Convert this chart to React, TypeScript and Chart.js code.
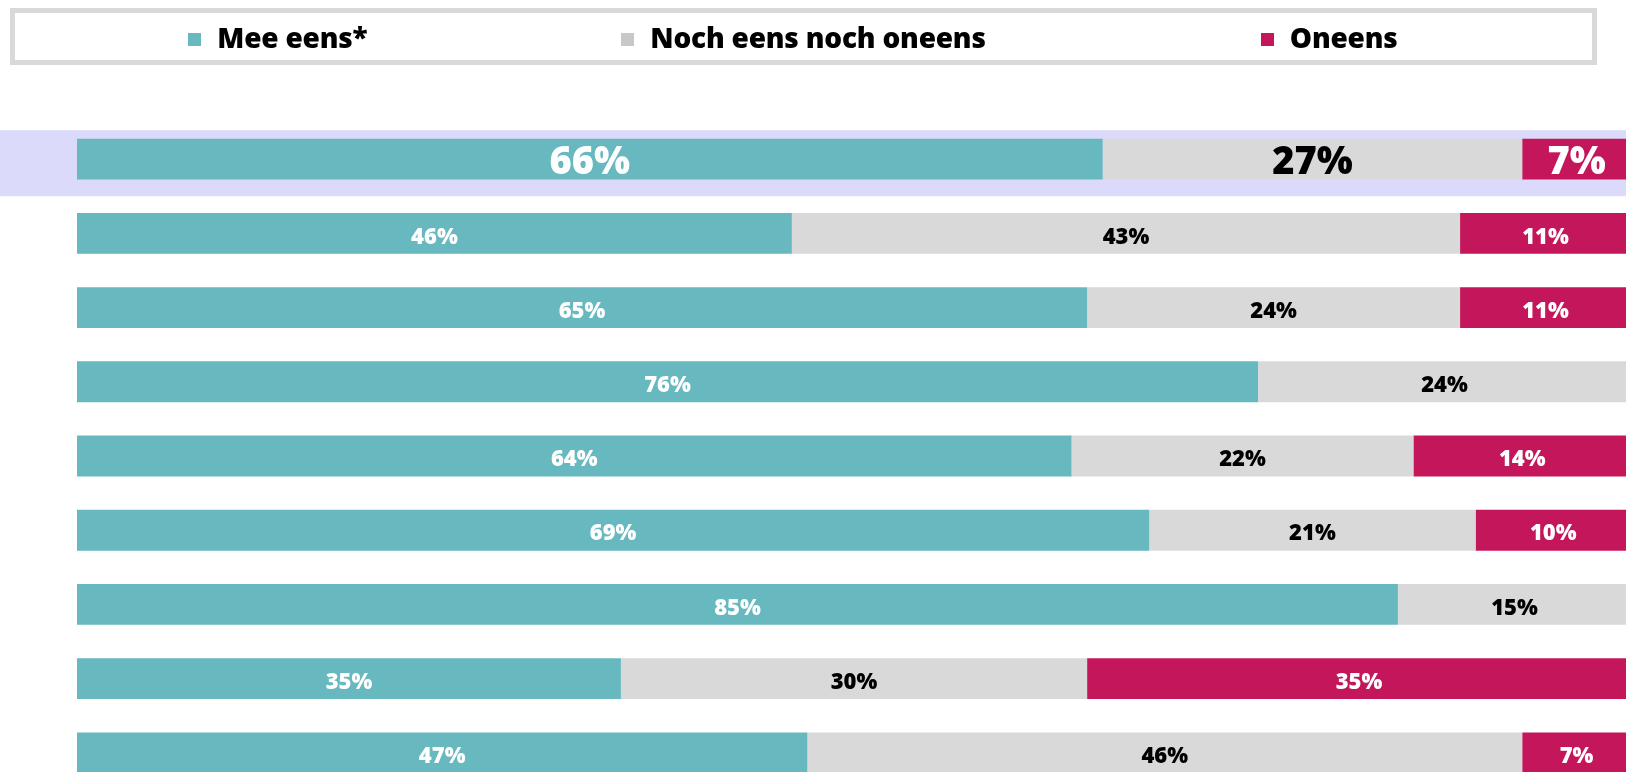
import React, { useEffect, useRef } from "react";
import { Chart, registerables } from "chart.js";

Chart.register(...registerables);

// ---- Data ----
const categories = [
  "Stelling 1",
  "Stelling 2",
  "Stelling 3",
  "Stelling 4",
  "Stelling 5",
  "Stelling 6",
  "Stelling 7",
  "Stelling 8",
  "Stelling 9",
];
const seriesNames = ["Mee eens*", "Noch eens noch oneens", "Oneens"];
const meeEens = [66, 46, 65, 76, 64, 69, 85, 35, 47];
const nochEens = [27, 43, 24, 24, 22, 21, 15, 30, 46];
const oneens = [7, 11, 11, 0, 14, 10, 0, 35, 7];
const highlightedRow = 0;

// ---- Style ----
const TEAL = "#67b8bf";
const GREY = "#d9d9d9";
const MAGENTA = "#c4165a";
const LAVENDER = "#dcdafa";
const FONT = "'Open Sans', 'DejaVu Sans', sans-serif";
const colors = [TEAL, GREY, MAGENTA];
const labelColors = ["#ffffff", "#000000", "#ffffff"];

const CANVAS_W = 1640;
const CANVAS_H = 790;

const bandPlugin = {
  id: "bandPlugin",
  beforeDatasetsDraw(chart: any) {
    const { ctx, scales } = chart;
    const y = scales.y;
    const center = y.getPixelForValue(highlightedRow);
    const step = y.getPixelForValue(1) - y.getPixelForValue(0);
    ctx.save();
    ctx.fillStyle = LAVENDER;
    ctx.fillRect(0, center - step * 0.39, chart.width, step * 0.89);
    ctx.restore();
  },
};

const labelPlugin = {
  id: "labelPlugin",
  afterDatasetsDraw(chart: any) {
    const { ctx } = chart;
    chart.data.datasets.forEach((ds: any, di: number) => {
      const meta = chart.getDatasetMeta(di);
      meta.data.forEach((el: any, i: number) => {
        const v = ds.data[i];
        if (!v) return;
        const big = i === highlightedRow;
        ctx.save();
        ctx.font = `800 ${big ? 38 : 22}px ${FONT}`;
        ctx.fillStyle = labelColors[di];
        ctx.textAlign = "center";
        ctx.textBaseline = "middle";
        ctx.fillText(`${v}%`, (el.x + el.base) / 2, el.y + (big ? 4 : 4));
        ctx.restore();
      });
    });
  },
};

export default function App() {
  const canvasRef = useRef<HTMLCanvasElement | null>(null);

  useEffect(() => {
    document.body.style.margin = "0";
    document.body.style.overflow = "hidden";
    const canvas = canvasRef.current;
    if (!canvas) return;
    const chart = new Chart(canvas, {
      type: "bar",
      data: {
        labels: categories,
        datasets: [meeEens, nochEens, oneens].map((d, i) => ({
          label: seriesNames[i],
          data: d,
          backgroundColor: colors[i],
          borderWidth: 0,
          barPercentage: 0.55,
          categoryPercentage: 1,
        })),
      },
      options: {
        indexAxis: "y",
        animation: false,
        responsive: false,
        maintainAspectRatio: false,
        devicePixelRatio: 1,
        layout: { padding: { top: 122, left: 77, right: 9, bottom: 0 } },
        scales: {
          x: { stacked: true, min: 0, max: 100, display: false },
          y: { stacked: true, display: false },
        },
        plugins: {
          legend: { display: false },
          tooltip: { enabled: false },
        },
      },
      plugins: [bandPlugin, labelPlugin],
    });
    return () => chart.destroy();
  }, []);

  return (
    <div
      style={{
        position: "relative",
        width: 1626,
        height: 772,
        overflow: "hidden",
        background: "#ffffff",
      }}
    >
      <canvas
        ref={canvasRef}
        width={CANVAS_W}
        height={CANVAS_H}
        style={{ position: "absolute", left: 0, top: 0, width: CANVAS_W, height: CANVAS_H }}
      />
      <div
        style={{
          position: "absolute",
          left: 10,
          top: 8,
          width: 1587,
          height: 57,
          boxSizing: "border-box",
          border: `5px solid ${GREY}`,
          display: "flex",
          alignItems: "center",
          fontFamily: FONT,
          fontWeight: 800,
          fontSize: 28,
          color: "#000",
        }}
      >
        {seriesNames.map((name, i) => (
          <div
            key={name}
            style={{ flex: 1, display: "flex", justifyContent: "center", alignItems: "center" }}
          >
            <span
              style={{
                display: "inline-block",
                width: 13,
                height: 13,
                background: colors[i] === GREY ? "#c8c8c8" : colors[i],
                marginRight: 16,
                marginTop: 6,
              }}
            />
            <span style={{ letterSpacing: -0.2, lineHeight: "normal" }}>{name}</span>
          </div>
        ))}
      </div>
    </div>
  );
}
